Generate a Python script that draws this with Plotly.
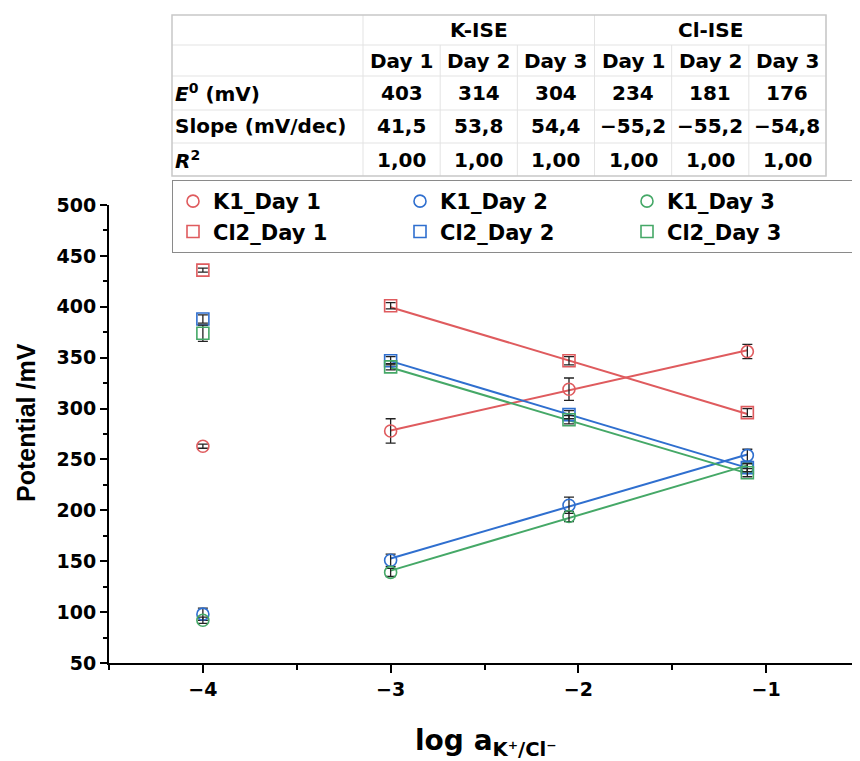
import plotly.graph_objects as go

# measured data (log activity vs potential)
x_log = [-4, -3, -2.05, -1.1]

k1_day1 = [263, 278, 319, 356]
k1_day2 = [98, 151, 205, 254]
k1_day3 = [92, 139, 194, 242]
cl2_day1 = [436, 401, 347, 296]
cl2_day2 = [388, 347, 294, 242]
cl2_day3 = [374, 341, 289, 237]

k1_day1_err = [2, 12, 11, 7]
k1_day2_err = [6, 6, 8, 6]
k1_day3_err = [3, 4, 5, 4]
cl2_day1_err = [2, 3, 4, 4]
cl2_day2_err = [4, 4, 4, 4]
cl2_day3_err = [8, 3, 4, 4]

# calibration table
group_labels = ["K-ISE", "Cl-ISE"]
day_labels = ["Day 1", "Day 2", "Day 3", "Day 1", "Day 2", "Day 3"]
row_labels = ["<i>E</i><sup>0</sup> (mV)", "Slope (mV/dec)", "<i>R</i><sup>2</sup>"]
e0_vals = [403, 314, 304, 234, 181, 176]
slope_vals = [41.5, 53.8, 54.4, -55.2, -55.2, -54.8]
r2_vals = [1.00, 1.00, 1.00, 1.00, 1.00, 1.00]

RED, BLUE, GREEN = "#DF5B5E", "#2F6FCF", "#45A867"
FONT = "DejaVu Sans, sans-serif"
FONT_Y = "Liberation Sans, Arial, sans-serif"

series = [
    ("K1_Day 1", k1_day1, k1_day1_err, RED, "circle-open", 0),
    ("K1_Day 2", k1_day2, k1_day2_err, BLUE, "circle-open", 1),
    ("K1_Day 3", k1_day3, k1_day3_err, GREEN, "circle-open", 2),
    ("Cl2_Day 1", cl2_day1, cl2_day1_err, RED, "square-open", 3),
    ("Cl2_Day 2", cl2_day2, cl2_day2_err, BLUE, "square-open", 4),
    ("Cl2_Day 3", cl2_day3, cl2_day3_err, GREEN, "square-open", 5),
]

fig = go.Figure()

# linear fits over the calibrated range, from table E0 and slope
x_fit = [x_log[1], x_log[-1]]
for name, y, err, color, sym, idx in series:
    fig.add_trace(go.Scatter(
        x=x_fit, y=[e0_vals[idx] + slope_vals[idx] * v for v in x_fit],
        mode="lines", line=dict(color=color, width=2),
        showlegend=False, hoverinfo="skip",
    ))

for name, y, err, color, sym, idx in series:
    fig.add_trace(go.Scatter(
        x=x_log, y=y, mode="markers", name=name,
        marker=dict(symbol=sym, size=12, color=color, line=dict(width=1.6, color=color)),
        error_y=dict(type="data", array=err, color="#222222", thickness=1.3, width=5),
    ))

# page has an 8px body margin; layout positions below are in page pixels
OFF = 8
FW, FH = 860 - OFF, 761 - OFF
L, T, B = 109, 205, 663
W, H = 860 - L, B - T


def px(x):
    return (x - L) / W


def py(y):
    return (B - y) / H


tx0, tx1, lab_w = 172, 826, 363
col_w = (tx1 - lab_w) / 6
row_y = [15, 45, 76, 110, 143, 176]

shapes = []
inner = dict(color="#E3E3E3", width=1)
for ry in row_y[1:-1]:
    shapes.append(dict(type="line", xref="paper", yref="paper",
                       x0=px(tx0), x1=px(tx1), y0=py(ry), y1=py(ry), line=inner))
for i in range(7):
    cx = lab_w + i * col_w
    top = row_y[0] if i in (0, 3, 6) else row_y[1]
    shapes.append(dict(type="line", xref="paper", yref="paper",
                       x0=px(cx), x1=px(cx), y0=py(top), y1=py(row_y[-1]), line=inner))
shapes.append(dict(type="rect", xref="paper", yref="paper",
                   x0=px(tx0), x1=px(tx1), y0=py(row_y[-1]), y1=py(row_y[0]),
                   line=dict(color="#C8C8C8", width=1.5)))

annotations = []
tfont = dict(family=FONT, size=20, color="black", weight="bold")


def cell(text, x, ry, xanchor="center"):
    annotations.append(dict(text=text, xref="paper", yref="paper", x=px(x), y=py(ry),
                            showarrow=False, font=tfont, xanchor=xanchor, yanchor="middle",
                            align=xanchor if xanchor != "center" else "center"))


for g, label in enumerate(group_labels):
    cell(label, lab_w + (g * 3 + 1.5) * col_w, (row_y[0] + row_y[1]) / 2)
for i, d in enumerate(day_labels):
    cell(d, lab_w + (i + 0.5) * col_w, (row_y[1] + row_y[2]) / 2 + 1)
table_rows = [
    [str(v) for v in e0_vals],
    [f"{v:.1f}".replace(".", ",").replace("-", "\u2212") for v in slope_vals],
    [f"{v:.2f}".replace(".", ",") for v in r2_vals],
]
for r, (lab, vals) in enumerate(zip(row_labels, table_rows)):
    ry = (row_y[r + 2] + row_y[r + 3]) / 2
    cell(lab, tx0 + 1, ry, xanchor="left")
    for i, v in enumerate(vals):
        cell(v, lab_w + (i + 0.5) * col_w, ry)

# axis titles
annotations.append(dict(text="Potential /mV", xref="paper", yref="paper",
                        x=px(26), y=py(423), textangle=-90, showarrow=False,
                        xanchor="center", yanchor="middle",
                        font=dict(family=FONT_Y, size=25, color="black", weight="bold")))
annotations.append(dict(text="log a<sub>K\u207a/Cl\u207b</sub>", xref="paper", yref="paper",
                        x=px(486), y=py(742), showarrow=False,
                        xanchor="center", yanchor="middle",
                        font=dict(family=FONT, size=28, color="black", weight="bold")))

fig.update_layout(
    width=FW, height=FH,
    margin=dict(l=L - OFF, r=0, t=T - OFF, b=FH - (B - OFF)),
    plot_bgcolor="white", paper_bgcolor="white",
    font=dict(family=FONT, size=19, color="black", weight="bold"),
    shapes=shapes, annotations=annotations,
    legend=dict(
        orientation="h", x=px(172), y=py(180), xanchor="left", yanchor="top",
        entrywidth=182, entrywidthmode="pixels",
        bordercolor="#8A8A8A", borderwidth=1, bgcolor="white",
        font=dict(family=FONT, size=21, color="black", weight="bold"),
    ),
    xaxis=dict(
        range=[-4.5, -0.5], tickvals=[-4, -3, -2, -1], showgrid=False, zeroline=False,
        showline=True, linecolor="black", linewidth=2,
        ticks="outside", ticklen=8, tickwidth=2, tickcolor="black",
        minor=dict(tickvals=[-4.5, -3.5, -2.5, -1.5, -0.5], ticks="outside", ticklen=5,
                   tickwidth=2, tickcolor="black"),
        tickfont=dict(size=19, weight="bold"),
    ),
    yaxis=dict(
        range=[50, 500], dtick=50, showgrid=False, zeroline=False,
        showline=True, linecolor="black", linewidth=2,
        ticks="outside", ticklen=7, tickwidth=2, tickcolor="black",
        minor=dict(dtick=25, ticks="outside", ticklen=4, tickwidth=2, tickcolor="black"),
        tickfont=dict(size=19, weight="bold"),
    ),
)

fig.write_html("out.html")
